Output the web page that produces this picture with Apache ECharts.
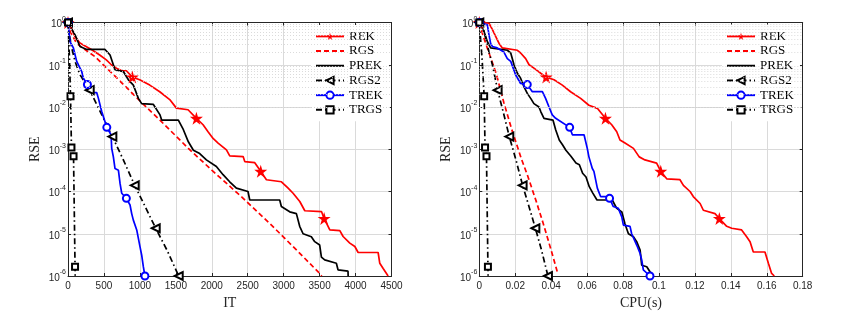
<!DOCTYPE html>
<html><head><meta charset="utf-8">
<script src="https://cdn.jsdelivr.net/npm/echarts@6/dist/echarts.min.js"></script>
<style>html,body{margin:0;padding:0;background:#fff}#c{width:856px;height:321px}</style>
</head><body><div id="c"></div>
<script>
// ---------- axis ranges / ticks ----------
const IT_MIN = 0, IT_MAX = 4500, IT_STEP = 500;
const CPU_MIN = 0, CPU_MAX = 0.18, CPU_STEP = 0.02;
const RSE_MIN = 1e-6, RSE_MAX = 1;
const LEGEND_NAMES = ['REK', 'RGS', 'PREK', 'RGS2', 'TREK', 'TRGS'];

// ---------- left panel: RSE vs IT ----------
const REK_IT = [[0,1],[46,7.3e-1],[93,4.8e-1],[162,3.3e-1],[232,2.8e-1],[325,2.3e-1],[441,1.7e-1],[533,1.3e-1],[603,1.0e-1],[673,8.3e-2],[742,7.3e-2],[812,7.2e-2],[895,5.1e-2],[997,4.4e-2],[1137,3.3e-2],[1276,2.3e-2],[1415,1.5e-2],[1508,9.4e-3],[1670,8.6e-3],[1786,5.4e-3],[1879,3.8e-3],[1948,2.6e-3],[2018,1.8e-3],[2088,1.4e-3],[2204,9.7e-4],[2250,7.0e-4],[2436,6.7e-4],[2459,5.1e-4],[2598,4.8e-4],[2681,3.0e-4],[2760,1.9e-4],[2969,1.7e-4],[3062,1.2e-4],[3131,9.1e-5],[3224,5.8e-5],[3294,3.5e-5],[3526,3.35e-5],[3563,2.3e-5],[3642,1.23e-5],[3781,1.19e-5],[3827,8.6e-6],[3920,6.0e-6],[3990,5.0e-6],[4036,3.6e-6],[4314,3.6e-6],[4337,2.0e-6],[4384,1.5e-6],[4453,1.0e-6]];
const REK_IT_MARKS = [0, 12, 19, 29, 37];
const RGS_IT = [[0,1],[28,6.2e-1],[121,3.2e-1],[250,2.2e-1],[376,1.55e-1],[700,4.5e-2],[1000,1.4e-2],[1300,4.5e-3],[1674,1.05e-3],[2000,3.2e-4],[2400,7.9e-5],[2800,1.8e-5],[3200,3.8e-6],[3501,1.15e-6],[3530,1.0e-6]];
const RGS_IT_MARKS = [];
const PREK_IT = [[0,1],[98,5.1e-1],[167,2.7e-1],[260,2.3e-1],[515,2.3e-1],[585,1.7e-1],[654,7.6e-2],[770,6.9e-2],[840,4.4e-2],[909,3.3e-2],[979,1.6e-2],[1025,1.2e-2],[1188,1.15e-2],[1280,6.5e-3],[1303,4.9e-3],[1535,4.9e-3],[1605,2.9e-3],[1674,1.5e-3],[1744,9.5e-4],[1832,7.9e-4],[1925,5.6e-4],[2064,3.9e-4],[2157,2.5e-4],[2249,1.7e-4],[2342,1.2e-4],[2504,1.0e-4],[2528,6.3e-5],[2945,6.3e-5],[2968,4.4e-5],[3084,3.3e-5],[3177,3.0e-5],[3223,1.5e-5],[3270,1.0e-5],[3385,8.5e-6],[3432,6.5e-6],[3501,5.4e-6],[3525,2.8e-6],[3571,2.4e-6],[3733,2.0e-6],[3756,1.4e-6],[3895,1.3e-6],[3897,1.0e-6]];
const PREK_IT_MARKS = [];
const RGS2_IT = [[0,1],[20,5.0e-1],[52,2.5e-1],[98,1.2e-1],[167,5.8e-2],[302,2.5e-2],[460,7.1e-3],[617,2.0e-3],[770,5.6e-4],[928,1.4e-4],[1070,4.5e-5],[1220,1.35e-5],[1380,4.0e-6],[1540,1.0e-6]];
const RGS2_IT_MARKS = [0, 5, 7, 9, 11, 13];
const TREK_IT = [[0,1],[28,3.5e-1],[75,2.5e-1],[121,1.2e-1],[191,6.9e-2],[214,4.8e-2],[270,3.4e-2],[330,2.5e-2],[353,2.2e-2],[399,2.2e-2],[423,1.6e-2],[469,7.8e-3],[515,4.5e-3],[540,3.3e-3],[599,2.2e-3],[608,1.05e-3],[631,6.6e-4],[654,3.5e-4],[701,3.2e-4],[724,1.55e-4],[747,9.1e-5],[812,6.9e-5],[863,4.8e-5],[886,3.0e-5],[909,2.1e-5],[956,1.23e-5],[1002,4.9e-6],[1025,3.1e-6],[1048,1.66e-6],[1070,1.0e-6]];
const TREK_IT_MARKS = [0, 6, 13, 21, 29];
const TRGS_IT = [[0,1],[20,1.5e-1],[35,1.8e-2],[48,1.1e-3],[77,6.8e-4],[98,1.65e-6],[100,1.0e-6]];
const TRGS_IT_MARKS = [0, 2, 3, 4, 5];

// ---------- right panel: RSE vs CPU(s) ----------
const REK_CPU = [[0,1],[0.0054,9.6e-1],[0.0073,6.8e-1],[0.0091,4.7e-1],[0.0110,3.2e-1],[0.0128,2.5e-1],[0.0212,2.2e-1],[0.0230,1.9e-1],[0.0258,1.4e-1],[0.0277,1.0e-1],[0.0304,8.3e-2],[0.0342,6.3e-2],[0.0372,5.1e-2],[0.0416,4.4e-2],[0.0462,3.3e-2],[0.0508,2.3e-2],[0.0564,1.6e-2],[0.0610,1.1e-2],[0.0657,9.3e-3],[0.0702,5.4e-3],[0.0737,3.8e-3],[0.0765,2.6e-3],[0.0783,1.66e-3],[0.0811,1.4e-3],[0.0858,1.05e-3],[0.0890,6.6e-4],[0.0922,5.6e-4],[0.0987,4.7e-4],[0.1010,3.0e-4],[0.1043,2.0e-4],[0.1117,1.9e-4],[0.1136,1.4e-4],[0.1173,1.0e-4],[0.1191,7.6e-5],[0.1229,5.2e-5],[0.1247,3.6e-5],[0.1312,3.0e-5],[0.1336,2.3e-5],[0.1377,1.5e-5],[0.1405,1.35e-5],[0.1460,1.23e-5],[0.1488,8.5e-6],[0.1507,6.5e-6],[0.1525,3.7e-6],[0.1590,3.7e-6],[0.1609,2.0e-6],[0.1627,1.15e-6],[0.1642,1.0e-6]];
const REK_CPU_MARKS = [0, 12, 19, 28, 37];
const RGS_CPU = [[0,1],[0.0020,5.0e-1],[0.0056,1.8e-1],[0.0095,6.0e-2],[0.0136,1.3e-2],[0.0180,3.0e-3],[0.0235,5.8e-4],[0.0267,2.5e-4],[0.0316,6.0e-5],[0.0355,1.8e-5],[0.0397,4.5e-6],[0.0434,1.26e-6],[0.0438,1.1e-6]];
const RGS_CPU_MARKS = [];
const PREK_CPU = [[0,1],[0.0026,6.2e-1],[0.0045,3.5e-1],[0.0063,2.5e-1],[0.0156,2.2e-1],[0.0175,1.9e-1],[0.0193,1.0e-1],[0.0212,6.3e-2],[0.0230,4.8e-2],[0.0249,3.0e-2],[0.0267,2.1e-2],[0.0286,1.6e-2],[0.0304,1.2e-2],[0.0332,1.0e-2],[0.0342,7.8e-3],[0.0360,5.4e-3],[0.0410,4.9e-3],[0.0425,2.9e-3],[0.0445,1.66e-3],[0.0464,1.26e-3],[0.0482,9.5e-4],[0.0510,6.8e-4],[0.0538,4.7e-4],[0.0557,4.3e-4],[0.0575,2.7e-4],[0.0594,2.2e-4],[0.0612,1.3e-4],[0.0631,9.3e-5],[0.0655,6.3e-5],[0.0740,6.3e-5],[0.0765,4.0e-5],[0.0793,3.3e-5],[0.0811,1.7e-5],[0.0830,1.0e-5],[0.0858,8.5e-6],[0.0876,6.5e-6],[0.0895,4.1e-6],[0.0904,1.8e-6],[0.0932,1.66e-6],[0.0950,1.26e-6],[0.0969,1.0e-6]];
const PREK_CPU_MARKS = [];
const RGS2_CPU = [[0,1],[0.0026,6.2e-1],[0.0041,3.5e-1],[0.0054,2.0e-1],[0.0073,1.0e-1],[0.0102,2.5e-2],[0.0135,7.1e-3],[0.0167,2.0e-3],[0.0204,5.6e-4],[0.0241,1.4e-4],[0.0276,4.5e-5],[0.0312,1.35e-5],[0.0347,4.0e-6],[0.0382,1.0e-6]];
const RGS2_CPU_MARKS = [0, 5, 7, 9, 11, 13];
const TREK_CPU = [[0,1],[0.0045,8.8e-1],[0.0054,5.1e-1],[0.0063,3.2e-1],[0.0073,2.7e-1],[0.0100,2.5e-1],[0.0137,2.0e-1],[0.0156,1.4e-1],[0.0175,1.2e-1],[0.0202,5.8e-2],[0.0230,3.6e-2],[0.0267,3.4e-2],[0.0295,2.3e-2],[0.0351,2.3e-2],[0.0369,1.6e-2],[0.0388,1.0e-2],[0.0406,6.5e-3],[0.0425,5.4e-3],[0.0503,3.3e-3],[0.0518,2.2e-3],[0.0583,2.2e-3],[0.0601,1.05e-3],[0.0610,6.6e-4],[0.0629,3.5e-4],[0.0638,3.0e-4],[0.0657,1.2e-4],[0.0675,7.6e-5],[0.0712,7.6e-5],[0.0725,6.9e-5],[0.0746,4.4e-5],[0.0774,4.0e-5],[0.0793,2.5e-5],[0.0802,1.6e-5],[0.0839,1.5e-5],[0.0848,1.0e-5],[0.0876,5.4e-6],[0.0895,3.4e-6],[0.0904,2.4e-6],[0.0913,1.4e-6],[0.0950,1.0e-6]];
const TREK_CPU_MARKS = [0, 11, 18, 28, 39];
const TRGS_CPU = [[0,1],[0.0015,1.5e-1],[0.0027,1.8e-2],[0.0032,1.1e-3],[0.0040,6.8e-4],[0.0048,1.65e-6],[0.0049,1.0e-6]];
const TRGS_CPU_MARKS = [0, 2, 3, 4, 5];

// ---------- styles ----------
const STAR = 'path://M50,0 L61,35 L98,35 L68,57 L79,91 L50,70 L21,91 L32,57 L2,35 L39,35 Z';
const DASH = [5, 3];
const DASHDOT = [6, 3, 1.5, 3];
const STYLE = {
  REK:  {color: '#ff0000', type: 'solid', symbol: STAR, size: 13},
  RGS:  {color: '#ff0000', type: DASH, symbol: null},
  PREK: {color: '#000000', type: 'solid', symbol: null},
  RGS2: {color: '#000000', type: DASHDOT, symbol: 'emptyTriangle', rotate: 90, size: 8},
  TREK: {color: '#0000ff', type: 'solid', symbol: 'emptyCircle', size: 7},
  TRGS: {color: '#000000', type: DASHDOT, symbol: 'emptyRect', size: 6}
};
const SANS = 'Liberation Sans, Arial, sans-serif';
const SERIF = 'Liberation Serif, Times New Roman, serif';
const AX = '#262626';

function mkSeries(name, pts, marks, xi, yi) {
  const st = STYLE[name];
  const data = pts.map((p, i) => (st.symbol && marks.indexOf(i) >= 0) ? {value: p} : {value: p, symbol: 'none'});
  return {
    name, type: 'line', xAxisIndex: xi, yAxisIndex: yi, data,
    symbol: st.symbol || 'circle', symbolSize: st.size || 6, symbolRotate: st.rotate || 0,
    showSymbol: true, showAllSymbol: true, clip: false, z: 3,
    lineStyle: {color: st.color, width: 1.7, type: st.type},
    itemStyle: {color: st.color, borderWidth: 1.3},
    emphasis: {disabled: true}
  };
}

const minorVals = [];
for (let e = -6; e < 0; e++) for (let k = 2; k <= 9; k++) minorVals.push({yAxis: k * Math.pow(10, e)});

function minorSeries(xi, yi) {
  return {
    name: '_minor', type: 'line', xAxisIndex: xi, yAxisIndex: yi, data: [], z: 1, silent: true,
    markLine: {silent: true, symbol: ['none', 'none'], label: {show: false}, animation: false,
      lineStyle: {color: '#d2d2d2', width: 0.8, type: [1, 2]}, emphasis: {disabled: true}, data: minorVals}
  };
}

function xAxes(gi, min, max, step, name, fmt) {
  return [
    {gridIndex: gi, type: 'value', min, max, interval: step, position: 'bottom',
      name, nameLocation: 'middle', nameGap: 17,
      nameTextStyle: {fontFamily: SERIF, fontSize: 14, color: AX},
      axisLine: {show: true, onZero: false, lineStyle: {color: AX, width: 1}},
      axisTick: {show: true, inside: true, length: 3, lineStyle: {color: AX}},
      axisLabel: {margin: 5, fontFamily: SANS, fontSize: 10, color: AX, formatter: fmt},
      splitLine: {show: true, lineStyle: {color: '#dadada', width: 1}}},
    {gridIndex: gi, type: 'value', min, max, interval: step, position: 'top',
      axisLine: {show: true, onZero: false, lineStyle: {color: AX, width: 1}},
      axisTick: {show: true, inside: true, length: 3, lineStyle: {color: AX}},
      axisLabel: {show: false}, splitLine: {show: false}}
  ];
}
function yAxes(gi) {
  return [
    {gridIndex: gi, type: 'log', logBase: 10, min: RSE_MIN, max: RSE_MAX, interval: 1, position: 'left',
      name: 'RSE', nameLocation: 'middle', nameGap: 26,
      nameTextStyle: {fontFamily: SERIF, fontSize: 14, color: AX},
      axisLine: {show: true, onZero: false, lineStyle: {color: AX, width: 1}},
      axisTick: {show: true, inside: true, length: 3, lineStyle: {color: AX}},
      axisLabel: {margin: 2, formatter: v => '{b|10}{s|' + Math.round(Math.log10(v)) + '}',
        rich: {b: {fontFamily: SANS, fontSize: 10, color: AX, lineHeight: 14, verticalAlign: 'bottom'},
               s: {fontFamily: SANS, fontSize: 7, color: AX, lineHeight: 14, verticalAlign: 'top'}}},
      splitLine: {show: true, lineStyle: {color: '#dadada', width: 1}}},
    {gridIndex: gi, type: 'log', logBase: 10, min: RSE_MIN, max: RSE_MAX, interval: 1, position: 'right',
      axisLine: {show: true, onZero: false, lineStyle: {color: AX, width: 1}},
      axisTick: {show: true, inside: true, length: 3, lineStyle: {color: AX}},
      axisLabel: {show: false}, splitLine: {show: false}}
  ];
}

function legend(left) {
  return {
    left, top: 25, orient: 'vertical', itemWidth: 28, itemHeight: 9, itemGap: 0,
    padding: [4, 6, 4, 4], backgroundColor: '#ffffff', selectedMode: false,
    textStyle: {fontFamily: SERIF, fontSize: 13, color: '#000', lineHeight: 14.7},
    data: LEGEND_NAMES.map(n => STYLE[n].symbol ? {name: n} : {name: n, itemStyle: {opacity: 0}})
  };
}

const itFmt = v => String(v);
const cpuFmt = v => String(Math.round(v * 100) / 100);

const leftSets = [['REK', REK_IT, REK_IT_MARKS], ['RGS', RGS_IT, RGS_IT_MARKS], ['PREK', PREK_IT, PREK_IT_MARKS],
  ['RGS2', RGS2_IT, RGS2_IT_MARKS], ['TREK', TREK_IT, TREK_IT_MARKS], ['TRGS', TRGS_IT, TRGS_IT_MARKS]];
const rightSets = [['REK', REK_CPU, REK_CPU_MARKS], ['RGS', RGS_CPU, RGS_CPU_MARKS], ['PREK', PREK_CPU, PREK_CPU_MARKS],
  ['RGS2', RGS2_CPU, RGS2_CPU_MARKS], ['TREK', TREK_CPU, TREK_CPU_MARKS], ['TRGS', TRGS_CPU, TRGS_CPU_MARKS]];

const option = {
  animation: false,
  backgroundColor: '#ffffff',
  grid: [
    {left: 68, top: 22.5, width: 323.5, height: 253.5},
    {left: 479.3, top: 22.5, width: 323.4, height: 253.5}
  ],
  xAxis: [...xAxes(0, IT_MIN, IT_MAX, IT_STEP, 'IT', itFmt), ...xAxes(1, CPU_MIN, CPU_MAX, CPU_STEP, 'CPU(s)', cpuFmt)],
  yAxis: [...yAxes(0), ...yAxes(1)],
  legend: [legend(311), legend(722)],
  series: [
    minorSeries(0, 0), minorSeries(2, 2),
    ...leftSets.map(s => mkSeries(s[0], s[1], s[2], 0, 0)),
    ...rightSets.map(s => mkSeries(s[0], s[1], s[2], 2, 2))
  ]
};
const chart = echarts.init(document.getElementById('c'), null, {renderer: 'canvas'});
chart.setOption(option);
</script></body></html>
